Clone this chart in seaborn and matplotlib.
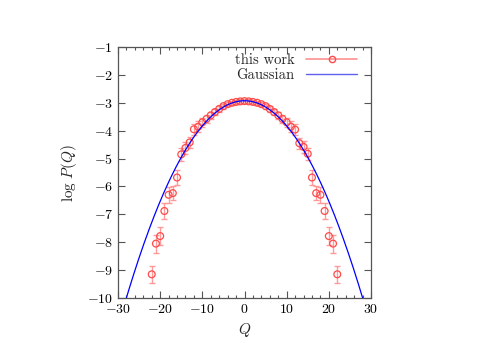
import numpy as np
import pandas as pd
import matplotlib
matplotlib.use("Agg")
import matplotlib.pyplot as plt
import seaborn as sns
from matplotlib.ticker import MultipleLocator
from matplotlib.lines import Line2D

# ------------------------------------------------------------------------
# data
# ------------------------------------------------------------------------
Q_VALUES = [-22, -21, -20, -19, -18, -17, -16, -15, -14, -13, -12, -11,
            -10, -9, -8, -7, -6, -5, -4, -3, -2, -1, 0,
            1, 2, 3, 4, 5, 6, 7, 8, 9, 10, 11, 12, 13, 14, 15,
            16, 17, 18, 19, 20, 21, 22]
LOGP_VALUES = [-9.15, -8.05, -7.78, -6.88, -6.30, -6.24, -5.68, -4.85, -4.62, -4.42,
               -3.95, -3.86, -3.70, -3.58, -3.45, -3.33, -3.22, -3.12, -3.05, -3.00,
               -2.97, -2.95, -2.94,
               -2.95, -2.97, -3.00, -3.05, -3.12, -3.22, -3.33, -3.45, -3.58, -3.70,
               -3.86, -3.96, -4.45, -4.58, -4.83,
               -5.68, -6.24, -6.30, -6.88, -7.78, -8.05, -9.15]
LOGP_ERR = [0.31, 0.32, 0.31, 0.28, 0.28, 0.25, 0.26, 0.22, 0.21, 0.20,
            0.20, 0.19, 0.17, 0.15, 0.13, 0.12, 0.10, 0.09, 0.08, 0.07,
            0.07, 0.07, 0.07,
            0.07, 0.07, 0.07, 0.08, 0.09, 0.10, 0.12, 0.13, 0.15, 0.17,
            0.19, 0.20, 0.20, 0.21, 0.22,
            0.26, 0.25, 0.28, 0.28, 0.31, 0.32, 0.31]

# Gaussian reference curve (natural log of a normalised Gaussian)
SIGMA = 7.45
X_RANGE = (-30, 30)
Y_RANGE = (-10, -1)

df = pd.DataFrame({"Q": Q_VALUES, "logP": LOGP_VALUES, "err": LOGP_ERR})
q_fine = np.linspace(X_RANGE[0], X_RANGE[1], 400)
gauss = pd.DataFrame({
    "Q": q_fine,
    "logP": -0.5 * np.log(2 * np.pi * SIGMA**2) - q_fine**2 / (2 * SIGMA**2),
})

# ------------------------------------------------------------------------
# style: gnuplot / epslatex look
# ------------------------------------------------------------------------
sns.set_style("ticks")
plt.rcParams.update({
    "font.family": "serif",
    "font.serif": ["cmr10", "DejaVu Serif"],
    "mathtext.fontset": "cm",
    "axes.formatter.use_mathtext": True,
    "axes.unicode_minus": True,
    "font.size": 10,
    "axes.edgecolor": "#555555",
    "xtick.color": "#555555",
    "ytick.color": "#555555",
    "xtick.labelcolor": "black",
    "ytick.labelcolor": "black",
})

fig = plt.figure(figsize=(4.9, 3.43), dpi=100)
ax = fig.add_axes([118 / 490, 1 - 298 / 343, (371 - 118) / 490, (298 - 47) / 343])

ax.errorbar(df["Q"], df["logP"], yerr=df["err"], fmt="none",
            ecolor="#ff9090", elinewidth=1.0, capsize=2.0, capthick=1.0,
            alpha=0.9, zorder=2)
sns.scatterplot(data=df, x="Q", y="logP", ax=ax, marker="o", s=24,
                facecolor="none", edgecolor="#ff4a4a", linewidth=0.9,
                zorder=3, legend=False)
sns.lineplot(data=gauss, x="Q", y="logP", ax=ax, color="#0000ff",
             linewidth=0.9, zorder=4, legend=False)

ax.set_xlim(*X_RANGE)
ax.set_ylim(*Y_RANGE)
ax.xaxis.set_major_locator(MultipleLocator(10))
ax.xaxis.set_minor_locator(MultipleLocator(2))
ax.yaxis.set_major_locator(MultipleLocator(1))
ax.tick_params(which="both", direction="in", top=True, right=True)
ax.tick_params(which="major", length=5, width=0.8)
ax.tick_params(which="minor", length=2.5, width=0.8)
for sp in ax.spines.values():
    sp.set_linewidth(0.9)

ax.set_xlabel(r"$Q$", fontsize=11, labelpad=4)
ax.set_ylabel(r"$\log\,P(Q)$", fontsize=11, labelpad=6)

# legend handles drawn gnuplot style (label first, sample after)
data_handle = Line2D([], [], color="#ff9090", marker="o", markersize=4.5,
                     markerfacecolor="none", markeredgecolor="#ff4a4a",
                     linewidth=1.2)
gauss_handle = Line2D([], [], color="#6060ee", linewidth=1.0)
ax.legend([data_handle, gauss_handle], ["this work", "Gaussian"],
          loc="upper right", bbox_to_anchor=(0.98, 1.01), frameon=False,
          markerfirst=False, handlelength=3.5, handletextpad=0.8,
          labelspacing=0.1, fontsize=10.5, borderaxespad=0.2)

fig.savefig("out.png", dpi=100)
